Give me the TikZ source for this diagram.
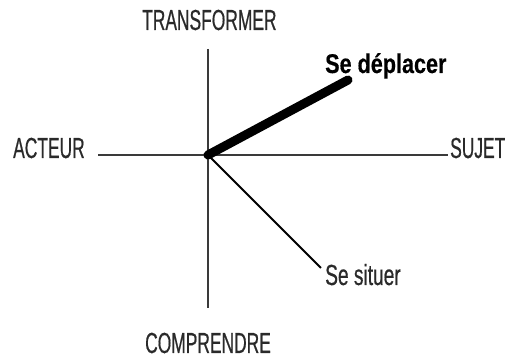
\documentclass[tikz,border=0pt]{standalone}
\usepackage{fontspec}
\setmainfont{Liberation Sans}[FakeStretch=0.6,FakeBold=0.5,BoldFeatures={FakeStretch=0.8,FakeBold=0.4}]
\definecolor{txt}{HTML}{2A2A2A}
\definecolor{axis}{HTML}{3A3A3A}
\begin{document}
\begin{tikzpicture}[x=1pt,y=-1pt,
  lab/.style={anchor=base west,inner sep=0pt,text=txt,font=\fontsize{29}{29}\selectfont},
  blab/.style={anchor=base west,inner sep=0pt,text=black,font=\fontsize{27}{27}\selectfont\bfseries},
  axisline/.style={draw=axis,line width=1.3pt},
  thick line/.style={draw=black,line width=9pt,line cap=round},
  thin line/.style={draw=black,line width=1.8pt}]
\useasboundingbox (0,0) rectangle (507,358);
\coordinate (O) at (208,155);
\coordinate (top) at (208,49);
\coordinate (bot) at (208,308);
\coordinate (left) at (98,155);
\coordinate (right) at (448,155);
\coordinate (dep) at (348,80);
\coordinate (sit) at (321,268);
\node[lab] (transformer) at (142,30) {TRANSFORMER};
\node[lab] (comprendre) at (145,353) {COMPRENDRE};
\node[lab] (acteur) at (13,158) {ACTEUR};
\node[lab] (sujet) at (450,158) {SUJET};
\node[blab] (sedeplacer) at (325,73) {Se déplacer};
\node[lab,xscale=1.1] (sesituer) at (325,285) {Se situer};
\draw[axisline] (top) -- (bot);
\draw[axisline] (left) -- (right);
\draw[thin line] (O) -- (sit);
\draw[thick line] (O) -- (dep);
\end{tikzpicture}
\end{document}
